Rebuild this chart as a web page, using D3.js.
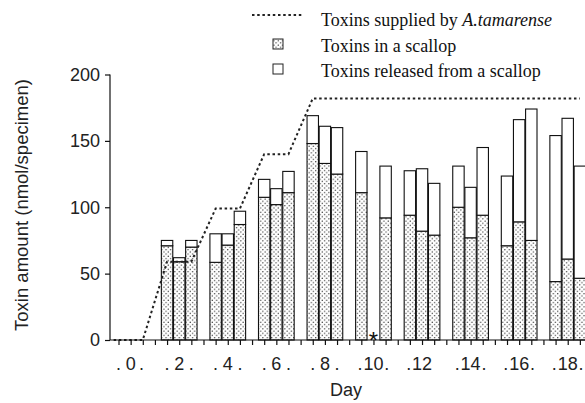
<!DOCTYPE html>
<html>
<head>
<meta charset="utf-8">
<script src="https://cdn.jsdelivr.net/npm/d3@7"></script>
<style>
  body { margin: 0; background: #fff; }
  svg { display: block; }
</style>
</head>
<body>
<div id="chart"></div>
<script>
// bar positions (day) - three samplings around each even day
var barDays = [1.5, 2, 2.5, 3.5, 4, 4.5, 5.5, 6, 6.5, 7.5, 8, 8.5, 9.5, 10, 10.5,
  11.5, 12, 12.5, 13.5, 14, 14.5, 15.5, 16, 16.5, 17.5, 18, 18.5];
// toxins in a scallop (nmol/specimen), null = not measured (*)
var inScallop = [71, 59, 70, 58.5, 71.5, 87, 107.5, 102, 111, 148, 133, 125, 111, null, 92,
  94, 82, 79, 100, 77, 94, 71, 89, 75, 44, 61, 46.5];
// toxins released from a scallop
var released = [4, 3, 5, 21.5, 8.5, 10, 13.5, 12, 16, 21, 28, 35, 31, null, 39,
  33.5, 47, 39, 31, 38, 51, 52.5, 77, 99, 110, 106, 84.5];
// toxins supplied by A.tamarense (cumulative)
var supplyDays = [-0.7, 0.5, 1.5, 2.5, 3.5, 4.5, 5.5, 6.5, 7.5, 18.5];
var supplyVals = [0, 0, 59, 59, 99, 99, 140, 140, 182, 182];
// axis labels
var yTicks = [0, 50, 100, 150, 200];
var dayLabels = [0, 2, 4, 6, 8, 10, 12, 14, 16, 18];
// the small dots printed beside the day numbers
var dotDays = [-0.5, 0.45, 1.5, 2.5, 3.5, 4.5, 5.5, 6.5, 7.5, 8.5, 9.45, 10.55,
  11.45, 13.45, 14.55, 15.45, 16.55, 17.45, 18.55];

var w = 585;
var h = 403;

var svg = d3
  .select("#chart")
  .append("svg")
  .attr("width", w)
  .attr("height", h);

svg.append("rect").attr("width", w).attr("height", h).attr("fill", "#fff");

// dotted fill
var pat = svg
  .append("defs")
  .append("pattern")
  .attr("id", "dots")
  .attr("patternUnits", "userSpaceOnUse")
  .attr("width", 4.4)
  .attr("height", 4.4);
pat.append("rect").attr("width", 4.4).attr("height", 4.4).attr("fill", "#fff");
pat.append("circle").attr("cx", 1.1).attr("cy", 1.1).attr("r", 0.7).attr("fill", "#333");
pat.append("circle").attr("cx", 3.3).attr("cy", 3.3).attr("r", 0.7).attr("fill", "#333");

var xScale = d3.scaleLinear().domain([-0.85, 19]).range([110, 592]);
var yScale = d3.scaleLinear().domain([0, 200]).range([340, 74.5]);

var bw = xScale(0.47) - xScale(0);

// bars: scallop part
svg
  .selectAll("rect.scallop")
  .data(barDays)
  .enter()
  .filter(function(d, i) { return inScallop[i] != null; })
  .append("rect")
  .attr("class", "scallop")
  .attr("x", function(d) { return xScale(d) - bw / 2; })
  .attr("y", function(d) { return yScale(inScallop[barDays.indexOf(d)]); })
  .attr("width", bw)
  .attr("height", function(d) { return yScale(0) - yScale(inScallop[barDays.indexOf(d)]); })
  .attr("fill", "url(#dots)")
  .attr("stroke", "#111")
  .attr("stroke-width", 1.1);

// bars: released part on top
svg
  .selectAll("rect.released")
  .data(barDays)
  .enter()
  .filter(function(d, i) { return inScallop[i] != null; })
  .append("rect")
  .attr("class", "released")
  .attr("x", function(d) { return xScale(d) - bw / 2; })
  .attr("y", function(d) {
    var i = barDays.indexOf(d);
    return yScale(inScallop[i] + released[i]);
  })
  .attr("width", bw)
  .attr("height", function(d) {
    var i = barDays.indexOf(d);
    return yScale(inScallop[i]) - yScale(inScallop[i] + released[i]);
  })
  .attr("fill", "#fff")
  .attr("stroke", "#111")
  .attr("stroke-width", 1.1);

// asterisk for missing sample
svg
  .append("text")
  .text("*")
  .attr("x", xScale(10))
  .attr("y", 349)
  .attr("text-anchor", "middle")
  .attr("font-family", "Liberation Sans, sans-serif")
  .attr("font-size", "24px")
  .attr("fill", "#111");

// supply line
var line = d3
  .line()
  .x(function(d, i) { return xScale(supplyDays[i]); })
  .y(function(d) { return yScale(d); });

svg
  .append("path")
  .datum(supplyVals)
  .attr("d", line)
  .attr("fill", "none")
  .attr("stroke", "#222")
  .attr("stroke-width", 2)
  .attr("stroke-dasharray", "2.5,2.7");

// X axis
var halfTicks = d3.range(-0.5, 18.6, 0.5);
var xAxis = d3
  .axisBottom(xScale)
  .tickValues(halfTicks)
  .tickSize(5)
  .tickFormat("");
svg
  .append("g")
  .attr("transform", "translate(0,340)")
  .call(xAxis)
  .call(function(g) {
    g.select(".domain").attr("d", "M" + xScale.range()[0] + ",0H" + xScale.range()[1]);
    g.selectAll("path, line").attr("stroke", "#111").attr("stroke-width", 1.2);
  });

// Y axis
var yAxis = d3
  .axisLeft(yScale)
  .tickValues(yTicks)
  .tickSize(5)
  .tickPadding(5);
svg
  .append("g")
  .attr("transform", "translate(" + xScale.range()[0] + ",0)")
  .call(yAxis)
  .call(function(g) {
    g.select(".domain").attr("d", "M0," + yScale(200) + "V" + yScale(0));
    g.selectAll("path, line").attr("stroke", "#111").attr("stroke-width", 1.2);
    g.selectAll("text")
      .attr("font-family", "Liberation Sans, sans-serif")
      .attr("font-size", "18px")
      .attr("fill", "#222");
  });

// day labels
svg
  .selectAll("text.day")
  .data(dayLabels)
  .enter()
  .append("text")
  .attr("class", "day")
  .text(function(d) { return d; })
  .attr("x", function(d) { return xScale(d); })
  .attr("y", 370)
  .attr("text-anchor", "middle")
  .attr("font-family", "Liberation Sans, sans-serif")
  .attr("font-size", "18px")
  .attr("fill", "#222");

svg
  .selectAll("text.dot")
  .data(dotDays)
  .enter()
  .append("text")
  .attr("class", "dot")
  .text(".")
  .attr("x", function(d) { return xScale(d); })
  .attr("y", 370)
  .attr("text-anchor", "middle")
  .attr("font-family", "Liberation Sans, sans-serif")
  .attr("font-size", "18px")
  .attr("fill", "#222");

svg
  .append("text")
  .text("Day")
  .attr("x", 346)
  .attr("y", 396)
  .attr("text-anchor", "middle")
  .attr("font-family", "Liberation Sans, sans-serif")
  .attr("font-size", "18px")
  .attr("fill", "#222");

svg
  .append("text")
  .text("Toxin amount (nmol/specimen)")
  .attr("transform", "translate(28,205) rotate(-90)")
  .attr("text-anchor", "middle")
  .attr("font-family", "Liberation Sans, sans-serif")
  .attr("font-size", "18.5px")
  .attr("fill", "#222");

// legend
var lg = svg.append("g").attr("font-family", "Liberation Serif, Times New Roman, serif").attr("font-size", "18px").attr("fill", "#111");
lg.append("line")
  .attr("x1", 252).attr("x2", 304).attr("y1", 15).attr("y2", 15)
  .attr("stroke", "#222").attr("stroke-width", 2).attr("stroke-dasharray", "2.5,2.7");
var t1 = lg.append("text").attr("x", 321).attr("y", 25.5);
t1.append("tspan").text("Toxins supplied by ");
t1.append("tspan").attr("font-style", "italic").text("A.tamarense");
lg.append("rect").attr("x", 273).attr("y", 39).attr("width", 10).attr("height", 10)
  .attr("fill", "url(#dots)").attr("stroke", "#222").attr("stroke-width", 1);
lg.append("text").attr("x", 321).attr("y", 51.5).text("Toxins in a scallop");
lg.append("rect").attr("x", 273).attr("y", 64).attr("width", 10).attr("height", 10)
  .attr("fill", "#fff").attr("stroke", "#222").attr("stroke-width", 1);
lg.append("text").attr("x", 321).attr("y", 77).text("Toxins released from a scallop");
</script>
</body>
</html>
